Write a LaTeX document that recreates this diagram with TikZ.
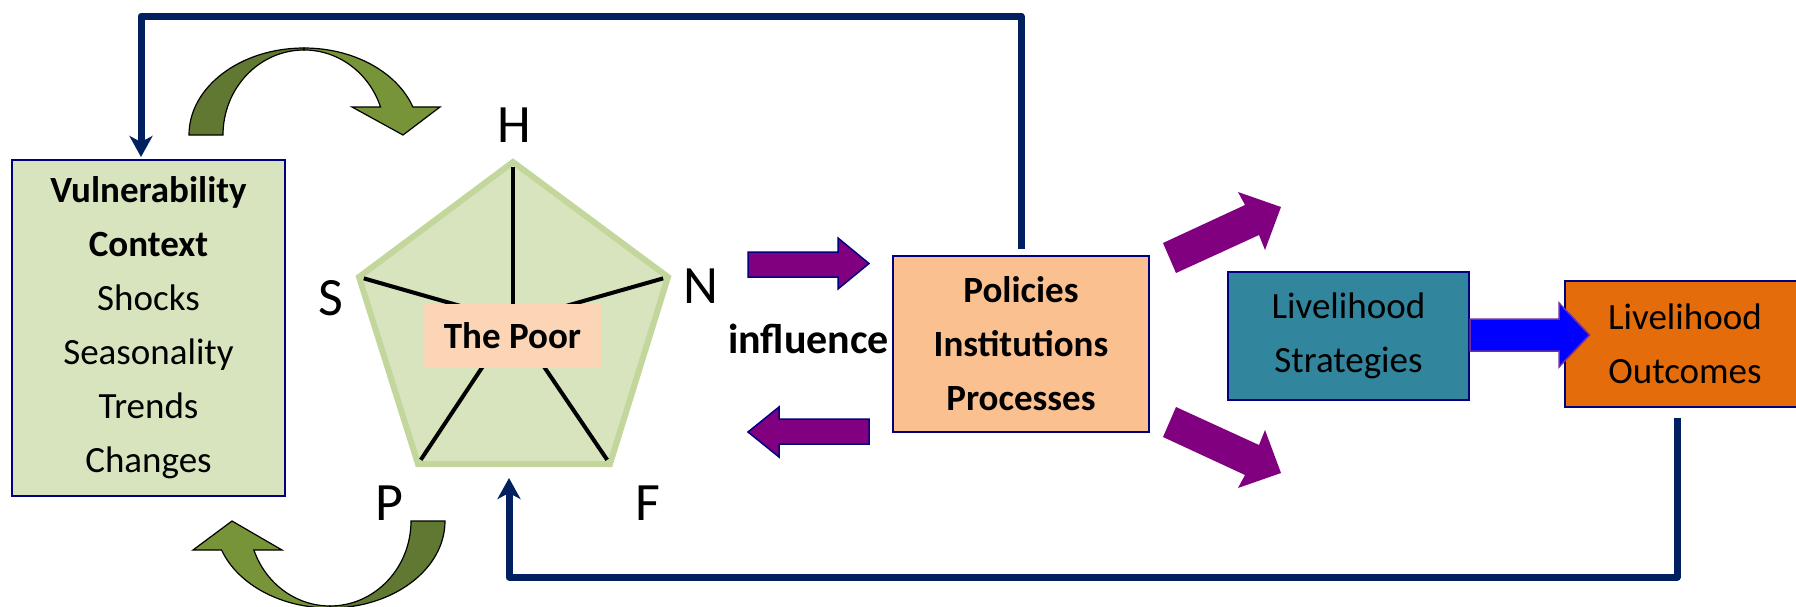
\documentclass[tikz,border=0pt]{standalone}
\usepackage{fontspec}
\setmainfont{Carlito}
\usetikzlibrary{shapes.geometric,arrows.meta,calc}

\definecolor{navyline}{HTML}{002060}
\definecolor{boxblue}{HTML}{000080}
\definecolor{vulfill}{HTML}{D7E4BD}
\definecolor{pentborder}{HTML}{C3D69B}
\definecolor{poorfill}{HTML}{FBD5B5}
\definecolor{polfill}{HTML}{FAC090}
\definecolor{stratfill}{HTML}{31859C}
\definecolor{outfill}{HTML}{E46C0A}
\definecolor{purp}{HTML}{800080}
\definecolor{arrowblue}{HTML}{0000FF}
\definecolor{arrowedge}{HTML}{7030A0}
\definecolor{gdark}{HTML}{617832}
\definecolor{glight}{HTML}{779438}

\begin{document}
\begin{tikzpicture}[x=0.5pt,y=-0.5pt,
  txt/.style={font=\fontsize{18.5}{27}\selectfont},
  box/.style={txt, draw=boxblue, line width=1pt, inner sep=0pt, align=center},
  lab/.style={font=\fontsize{27}{27}\selectfont, inner sep=0pt},
  spoke/.style={draw=black, line width=2pt, shorten <=2.5pt},
  feedback/.style={draw=navyline, line width=3.5pt, line join=round,
    -{Stealth[length=10.5pt,width=11.5pt,inset=3pt]}},
  curvedark/.style={fill=gdark, draw=black, line width=0.6pt},
  curvelight/.style={fill=glight, draw=black, line width=0.6pt},
  blockarrow/.style={fill=purp, draw=boxblue, line width=0.75pt},
  diagarrow/.style={fill=purp},
  flowarrow/.style={fill=arrowblue, draw=arrowedge, line width=0.75pt}]

\useasboundingbox (0,0) rectangle (1796,606);
\clip (0,0) rectangle (1796,606);

% vulnerability context
\node[box, fill=vulfill, minimum width=136.5pt, minimum height=168pt]
  (vul) at (148.5,328)
  {\textbf{Vulnerability}\\\textbf{Context}\\Shocks\\Seasonality\\Trends\\Changes};

% asset pentagon
\coordinate (ch) at (513,162);
\coordinate (cn) at (668,277);
\coordinate (cf) at (610,464);
\coordinate (cp) at (418,464);
\coordinate (cs) at (359,277);
\coordinate (hub) at (513,321);
\path[fill=vulfill, draw=pentborder, line width=3pt, line join=miter]
  (ch) -- (cn) -- (cf) -- (cp) -- (cs) -- cycle;
\foreach \c in {ch,cn,cf,cp,cs} \draw[spoke] (\c) -- (hub);
\node[fill=poorfill, minimum width=89.5pt, minimum height=32pt, inner sep=0pt,
  font=\fontsize{18.5}{27}\selectfont\bfseries] (poor) at (512.5,336) {The Poor};

\node[lab] (lh) at (514,125) {H};
\node[lab] (ls) at (331,298) {S};
\node[lab] (ln) at (701,286) {N};
\node[lab] (lp) at (389,503) {P};
\node[lab] (lf) at (648,503) {F};

% curved arrow above
\path[curvedark] (189,135) arc[start angle=180, end angle=270, x radius=115, y radius=87]
  -- (304,50) arc[start angle=270, end angle=180, x radius=81, y radius=85] -- cycle;
\path[curvelight] (304,48) arc[start angle=270, end angle=341.2, x radius=115, y radius=87]
  -- (440,107) -- (403,135) -- (352,107) -- (380.5,107)
  arc[start angle=340.8, end angle=270, x radius=81, y radius=85] -- cycle;

% curved arrow below
\path[curvedark] (445,521) arc[start angle=0, end angle=90, x radius=115, y radius=87]
  -- (330,606) arc[start angle=90, end angle=0, x radius=81, y radius=85] -- cycle;
\path[curvelight] (330,608) arc[start angle=90, end angle=160.5, x radius=115, y radius=87]
  -- (193,550) -- (232,521) -- (282,550) -- (253.9,550)
  arc[start angle=160.05, end angle=90, x radius=81, y radius=85] -- cycle;

% policies, strategies, outcomes
\node[box, fill=polfill, minimum width=128pt, minimum height=88pt,
  font=\fontsize{18.5}{27}\selectfont\bfseries]
  (pol) at (1021,344) {Policies\\Institutions\\Processes};
\node[box, fill=stratfill, minimum width=120.5pt, minimum height=64pt]
  (strat) at (1348.5,336) {Livelihood\\Strategies};
\node[box, fill=outfill, minimum width=120pt, minimum height=63pt]
  (out) at (1685,344) {Livelihood\\Outcomes};

\node[font=\fontsize{21}{27}\selectfont\bfseries, inner sep=0pt, anchor=base]
  (infl) at (808.5,353) {influence};

% feedback lines
\coordinate (topy) at (0,16);
\coordinate (vx) at (141,0);
\draw[feedback, shorten >=1pt] ($(pol.north)+(0,-6)$) -- (pol.north |- topy)
  -- (vx |- topy) -- (vx |- vul.north);
\coordinate (boty) at (0,577);
\coordinate (bx) at (1677,0);
\coordinate (ptip) at (509,478);
\draw[feedback] ($(bx |- out.south)+(0,10)$) -- (bx |- boty) -- (ptip |- boty) -- (ptip);

% block arrows around the policy box
\path[blockarrow] (748,252) -- (838,252) -- (838,238) -- (869,263.5) -- (838,289)
  -- (838,277) -- (748,277) -- cycle;
\path[blockarrow] (869,419) -- (779,419) -- (779,407) -- (748,432) -- (779,457)
  -- (779,444) -- (869,444) -- cycle;
\path[diagarrow] (1163,243) -- (1245,205) -- (1238,192) -- (1281,207) -- (1265,250)
  -- (1259,235) -- (1176,273) -- cycle;
\path[diagarrow] (1163,437) -- (1245,475) -- (1238,488) -- (1281,473) -- (1265,430)
  -- (1259,445) -- (1176,407) -- cycle;

% strategies to outcomes
\path[flowarrow] (strat.east |- 0,319) -- (1559,319) -- (1559,303) -- (1589.5,335)
  -- (1559,367) -- (1559,351) -- (strat.east |- 0,351) -- cycle;
\end{tikzpicture}
\end{document}
